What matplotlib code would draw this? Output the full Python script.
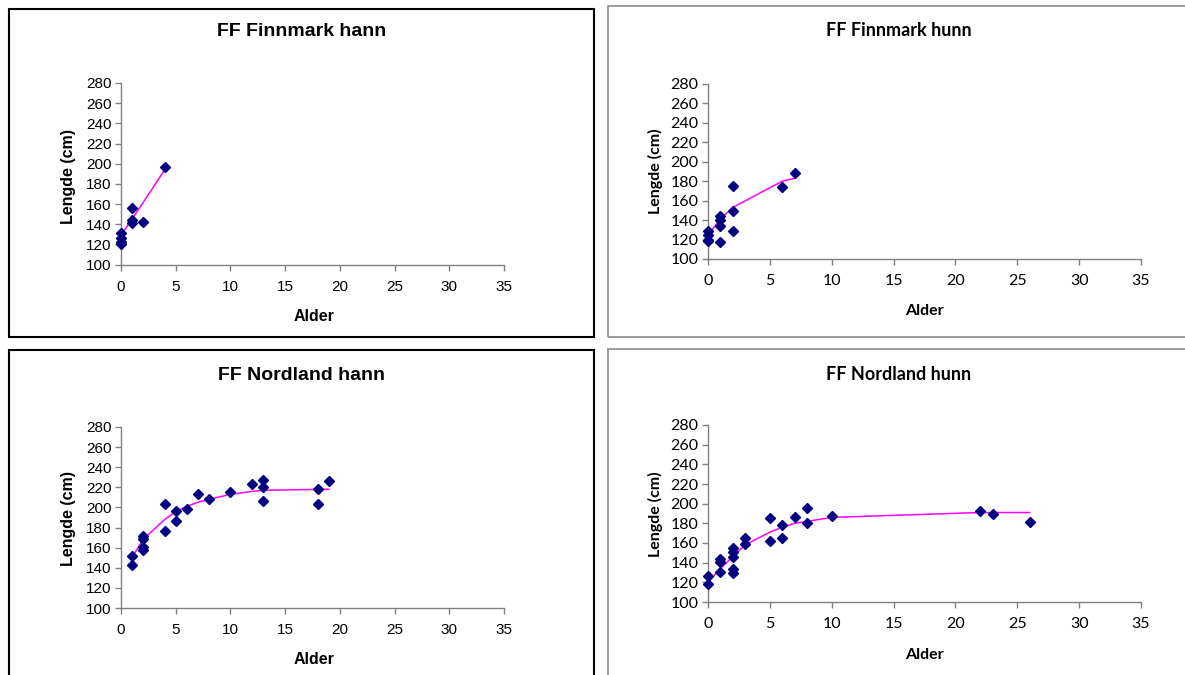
import matplotlib
matplotlib.use("Agg")
import matplotlib.pyplot as plt
from matplotlib.patches import Rectangle
import numpy as np

W, H = 1185, 675

# --- data ---
# FF Finnmark hann
fh_age = [0, 0, 0, 0, 1, 1, 1, 2, 4]
fh_len = [131, 126, 122, 120, 156, 144, 141, 142, 197]
fh_fit_age = [0, 1, 2, 4]
fh_fit_len = [129, 145, 161, 194]

# FF Finnmark hunn
fu_age = [0, 0, 0, 0, 1, 1, 1, 1, 2, 2, 2, 6, 7]
fu_len = [129, 125, 120, 118, 144, 140, 134, 117, 175, 149, 129, 174, 188]
fu_fit_age = [0, 1, 2, 6, 7]
fu_fit_len = [125, 141, 153, 180, 183]

# FF Nordland hann
nh_age = [1, 1, 2, 2, 2, 2, 4, 4, 5, 5, 6, 7, 8, 10, 12, 13, 13, 13, 18, 18, 19]
nh_len = [152, 143, 172, 169, 161, 158, 203, 177, 196, 187, 198, 213, 208, 215,
          223, 227, 220, 206, 218, 203, 226]
nh_fit_age = [1, 2, 4, 5, 6, 7, 8, 10, 12, 13, 18, 19]
nh_fit_len = [150, 168, 188, 196, 201, 205, 208, 213, 216, 217, 218, 218]

# FF Nordland hunn
nu_age = [0, 0, 1, 1, 1, 2, 2, 2, 2, 2, 3, 3, 5, 5, 6, 6, 7, 8, 8, 10, 22, 23, 26]
nu_len = [126, 118, 144, 141, 131, 155, 151, 146, 134, 129, 165, 159, 185, 162,
          178, 165, 186, 196, 180, 187, 193, 189, 181]
nu_fit_age = [0, 1, 2, 3, 5, 6, 7, 8, 10, 22, 23, 26]
nu_fit_len = [120, 134, 146, 158, 171, 176, 180, 182, 186, 191, 191, 191]

xticks = [0, 5, 10, 15, 20, 25, 30, 35]
yticks = [100, 120, 140, 160, 180, 200, 220, 240, 260, 280]


def px_rect(l, t, r, b):
    return [l / W, 1 - b / H, (r - l) / W, (b - t) / H]


fig = plt.figure(figsize=(W / 100, H / 100), dpi=100)
fig.patch.set_facecolor("white")

# panel frames
frames = [
    (9, 9, 594, 337, "black", 1.5),
    (608, 6, 1195, 337, "#8a8a8a", 1.2),
    (9, 350, 594, 690, "black", 1.5),
    (608, 349, 1195, 690, "#8a8a8a", 1.2),
]
for l, t, r, b, c, lw in frames:
    fig.patches.append(Rectangle((l / W, 1 - b / H), (r - l) / W, (b - t) / H,
                                 transform=fig.transFigure, fill=False,
                                 edgecolor=c, linewidth=lw, zorder=0))

panels = [
    dict(title="FF Finnmark hann", age=fh_age, ln=fh_len, fa=fh_fit_age, fl=fh_fit_len,
         ax=(121, 83, 504, 264.5), font="Liberation Sans", tsize=14, ksize=11,
         title_xy=(302, 32), xl_xy=(314, 316), yl_xy=(68, 176)),
    dict(title="FF Finnmark hunn", age=fu_age, ln=fu_len, fa=fu_fit_age, fl=fu_fit_len,
         ax=(708, 84, 1141, 259), font="Lato", tsize=13, ksize=11.5,
         title_xy=(899, 30), xl_xy=(924, 311), yl_xy=(655, 171)),
    dict(title="FF Nordland hann", age=nh_age, ln=nh_len, fa=nh_fit_age, fl=nh_fit_len,
         ax=(121, 427, 504, 608), font="Liberation Sans", tsize=14, ksize=11,
         title_xy=(302, 376), xl_xy=(314, 659), yl_xy=(68, 518)),
    dict(title="FF Nordland hunn", age=nu_age, ln=nu_len, fa=nu_fit_age, fl=nu_fit_len,
         ax=(708, 425, 1141, 602), font="Lato", tsize=13, ksize=11.5,
         title_xy=(899, 375), xl_xy=(924, 655), yl_xy=(655, 514)),
]

for p in panels:
    ax = fig.add_axes(px_rect(*p["ax"]))
    ax.plot(p["fa"], p["fl"], color="#ff00ff", linewidth=1.1, zorder=2)
    ax.plot(p["age"], p["ln"], linestyle="none", marker="D", markersize=5.3,
            color="#000080", zorder=3, clip_on=False)
    ax.set_xlim(0, 35)
    ax.set_ylim(100, 280)
    ax.set_xticks(xticks)
    ax.set_yticks(yticks)
    for s in ["top", "right"]:
        ax.spines[s].set_visible(False)
    for s in ["left", "bottom"]:
        ax.spines[s].set_color("#808080")
        ax.spines[s].set_linewidth(1.0)
    ax.tick_params(direction="out", length=4, width=1, color="#808080",
                   labelsize=p["ksize"], pad=3)
    ax.tick_params(axis="x", pad=7)
    for lab in ax.get_xticklabels() + ax.get_yticklabels():
        lab.set_fontfamily(p["font"])
    ax.set_facecolor("none")

    tx, ty = p["title_xy"]
    fig.text(tx / W, 1 - ty / H, p["title"], ha="center", va="center",
             fontsize=p["tsize"], fontweight="bold", family=p["font"])
    xx, xy = p["xl_xy"]
    fig.text(xx / W, 1 - xy / H, "Alder", ha="center", va="center",
             fontsize=11.5, fontweight="bold", family=p["font"])
    yx, yy = p["yl_xy"]
    fig.text(yx / W, 1 - yy / H, "Lengde (cm)", ha="center", va="center",
             rotation=90, fontsize=11.5, fontweight="bold", family=p["font"])

fig.savefig("out.png", dpi=100)
